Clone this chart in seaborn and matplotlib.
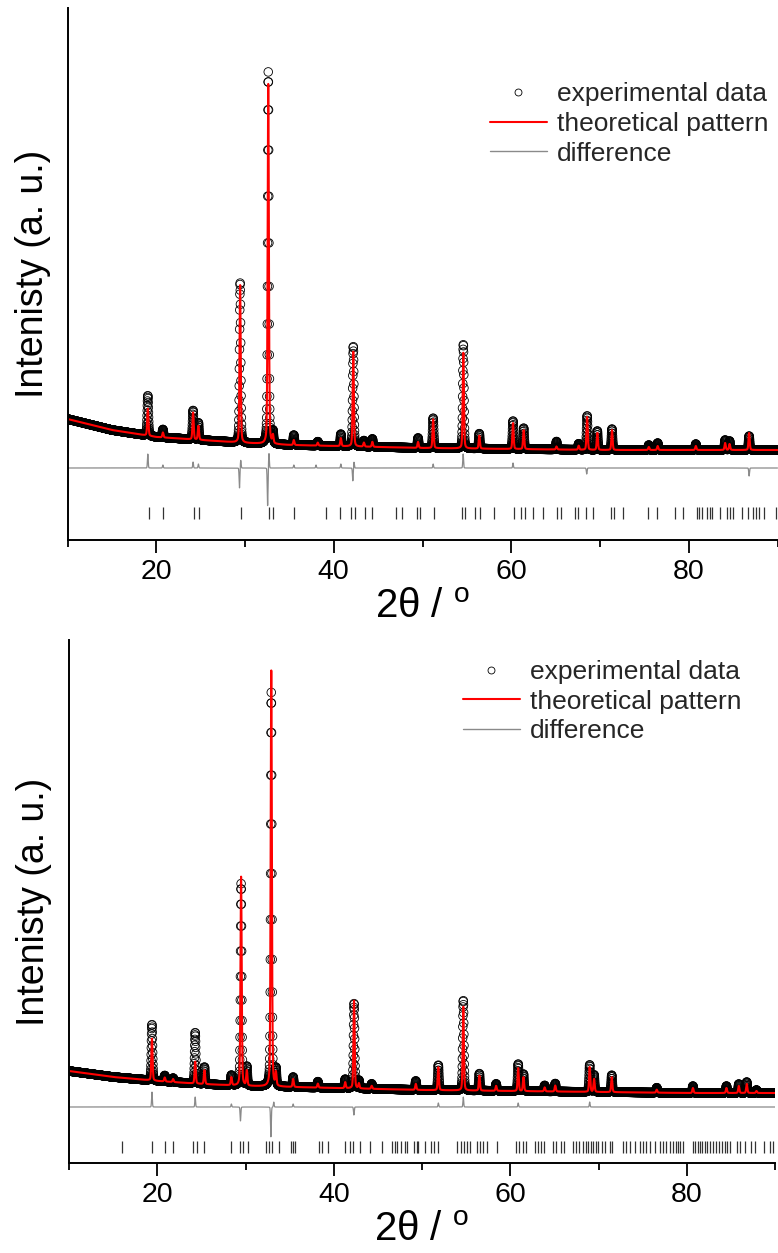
import numpy as np
import pandas as pd
import matplotlib
matplotlib.use("Agg")
import matplotlib.pyplot as plt
from matplotlib.lines import Line2D
import seaborn as sns

# ---------------- data (arbitrary units) ----------------
two_theta_step = 0.015

# top pattern
top_bg_x = [10, 15, 20, 25, 30, 35, 40, 50, 60, 70, 80, 90]
top_bg_y = [121, 110, 103, 100, 97, 95, 94, 92, 91, 90, 90, 90]
top_peak_pos = [19.05, 20.75, 24.15, 24.75, 29.45, 32.62, 33.15, 35.5, 38.2, 40.8,
                42.2, 43.4, 44.35, 49.5, 51.2, 54.6, 56.4, 60.2, 61.4, 65.1,
                67.6, 68.55, 69.7, 71.35, 75.5, 76.5, 80.8, 84.1, 84.6, 86.8]
top_obs_h = [40, 8, 29, 17, 160, 372, 12, 10, 4, 12,
             100, 6, 8, 10, 30, 104, 15, 28, 21, 8,
             6, 34, 19, 21, 5, 7, 6, 10, 9, 14]
top_calc_h = [27, 5, 27, 14, 158, 360, 8, 5, 3, 8,
              95, 4, 5, 6, 29, 96, 13, 26, 19, 3,
              4, 33, 17, 20, 3, 4, 4, 7, 6, 17]
top_diff_pos = [19.05, 20.75, 24.15, 24.75, 29.38, 29.52, 32.55, 32.7, 35.5, 38.0,
                40.8, 42.15, 42.28, 54.58, 51.2, 60.2, 68.5, 86.8]
top_diff_amp = [14, 3, 6, 4, -20, 8, -38, 15, 3, 3,
                4, -13, 6, 14, 4, 5, -6, -8]
top_reflections = [19.13, 20.71, 24.22, 24.78, 29.57, 32.69, 33.14, 35.52, 39.1, 40.72,
                   41.92, 42.37, 43.5, 44.26, 47.0, 47.65, 49.38, 49.76, 51.26, 54.46,
                   54.8, 55.86, 56.5, 58.04, 60.26, 61.13, 61.51, 62.49, 63.58, 65.16,
                   65.65, 67.15, 67.53, 68.47, 69.23, 71.22, 71.56, 72.62, 75.37, 76.46,
                   78.45, 79.4, 80.9, 81.16, 81.47, 82.03, 82.34, 82.6, 83.54, 84.29,
                   84.67, 84.94, 85.99, 86.67, 87.2, 87.57, 87.94, 88.44, 89.8]

# bottom pattern
bot_bg_x = [10, 15, 20, 25, 30, 40, 50, 60, 70, 80, 90]
bot_bg_y = [92, 86, 82, 79, 77, 75, 73, 72, 71, 70, 70]
bot_peak_pos = [19.4, 20.85, 21.8, 24.3, 25.35, 28.4, 29.5, 30.15, 32.92, 33.45,
                35.4, 38.2, 41.3, 42.3, 42.85, 44.3, 49.3, 51.85, 54.68, 56.5,
                58.4, 60.9, 61.5, 63.9, 65.1, 69.0, 69.5, 71.5, 76.6, 80.7,
                84.5, 85.9, 86.8, 87.9]
bot_obs_h = [56, 6, 4, 51, 17, 10, 202, 19, 394, 17,
             10, 6, 9, 85, 8, 5, 9, 25, 90, 17,
             7, 27, 17, 6, 8, 27, 17, 17, 5, 7,
             7, 9, 11, 3]
bot_calc_h = [42, 4, 3, 22, 14, 8, 209, 15, 416, 13,
              8, 4, 6, 88, 5, 3, 6, 23, 84, 15,
              5, 23, 14, 4, 6, 25, 13, 15, 3, 5,
              5, 7, 9, 2]
bot_diff_pos = [19.4, 24.3, 29.43, 32.88, 33.2, 42.28, 51.85, 54.68, 60.9, 69.0, 35.4, 28.4]
bot_diff_amp = [15, 10, -14, -30, 5, -8, 4, 10, 4, 5, 3, 3]
bot_reflections = [16.0, 19.4, 20.83, 21.77, 24.04, 24.49, 25.35, 28.34, 29.39, 29.7,
                   30.33, 32.3, 32.71, 33.05, 33.81, 35.17, 35.36, 35.62, 38.37, 38.71,
                   39.39, 41.28, 41.85, 42.22, 42.98, 44.11, 45.5, 46.64, 46.94, 47.2,
                   47.58, 48.07, 48.26, 49.09, 49.4, 49.58, 50.34, 50.98, 51.36, 51.85,
                   53.92, 54.38, 54.75, 55.13, 55.43, 56.19, 56.56, 56.87, 57.32, 58.53,
                   60.64, 61.02, 61.4, 61.77, 62.79, 63.09, 63.43, 63.81, 64.87, 65.24,
                   65.7, 66.07, 67.13, 67.4, 67.77, 68.26, 68.56, 68.83, 69.13, 69.39,
                   69.7, 69.96, 70.34, 70.72, 71.28, 71.55, 72.79, 73.17, 73.55, 74.19,
                   74.68, 75.06, 75.43, 75.81, 76.38, 77.02, 77.32, 77.7, 78.07, 78.45,
                   78.75, 79.02, 79.28, 79.58, 80.72, 80.98, 81.24, 81.47, 81.77, 82.04,
                   82.3, 82.6, 82.98, 83.28, 83.66, 84.04, 84.3, 84.56, 84.94, 85.7,
                   86.07, 86.57, 87.32, 87.7, 88.72, 89.4, 89.77]

x_ticks_major = [20, 40, 60, 80]
x_ticks_minor = [10, 30, 50, 70, 90]
legend_labels = ["experimental data", "theoretical pattern", "difference"]
y_label = "Intenisty (a. u.)"
x_label = r"2θ / $^{\mathrm{o}}$"

# ---------------- building profiles from the peak tables ----------------
grid = np.arange(10, 90 + two_theta_step / 2, two_theta_step)


def pseudo_voigt(x, pos, fwhm=0.16, eta=0.3):
    g = np.exp(-4 * np.log(2) * ((x - pos) / fwhm) ** 2)
    l = 1.0 / (1 + 4 * ((x - pos) / fwhm) ** 2)
    return eta * l + (1 - eta) * g


def pattern(bg_x, bg_y, pos, hts, fwhm=0.16, eta=0.3):
    y = np.interp(grid, bg_x, bg_y).astype(float)
    for p, h in zip(pos, hts):
        y += h * pseudo_voigt(grid, p, fwhm, eta)
    return y


def diff_curve(pos, amp, offset):
    y = np.full_like(grid, offset, dtype=float)
    for p, a in zip(pos, amp):
        y += a * pseudo_voigt(grid, p, 0.1, 0.1)
    return y


panels = [
    dict(bg_x=top_bg_x, bg_y=top_bg_y, pos=top_peak_pos, obs=top_obs_h, calc=top_calc_h,
         dpos=top_diff_pos, damp=top_diff_amp, refl=top_reflections,
         rect=[67.5 / 778, 713 / 1253, 710 / 778, 532 / 1253], ylim=532,
         diff_off=72, refl_c=27, leg=(0.595, 0.861)),
    dict(bg_x=bot_bg_x, bg_y=bot_bg_y, pos=bot_peak_pos, obs=bot_obs_h, calc=bot_calc_h,
         dpos=bot_diff_pos, damp=bot_diff_amp, refl=bot_reflections,
         rect=[69 / 778, 90 / 1253, 706 / 778, 523 / 1253], ylim=523,
         diff_off=56, refl_c=16, leg=(0.558, 0.962)),
]

# ---------------- drawing ----------------
sns.set_theme(style="white")
plt.rcParams["font.family"] = ["Liberation Sans", "DejaVu Sans"]
plt.rcParams["mathtext.fontset"] = "custom"
plt.rcParams["mathtext.rm"] = "Liberation Sans"
plt.rcParams["mathtext.it"] = "Liberation Sans:italic"
plt.rcParams["mathtext.bf"] = "Liberation Sans:bold"

fig = plt.figure(figsize=(7.78, 12.53), dpi=100)

for pnl in panels:
    ax = fig.add_axes(pnl["rect"])
    obs = pattern(pnl["bg_x"], pnl["bg_y"], pnl["pos"], pnl["obs"])
    calc = pattern(pnl["bg_x"], pnl["bg_y"], pnl["pos"], pnl["calc"])
    diff = diff_curve(pnl["dpos"], pnl["damp"], pnl["diff_off"])
    df = pd.DataFrame({"tt": grid, "obs": obs, "calc": calc, "diff": diff})

    sns.scatterplot(data=df, x="tt", y="obs", ax=ax, marker="o", s=38,
                    facecolor="none", edgecolor="black", linewidth=0.6, legend=False)
    sns.lineplot(data=df, x="tt", y="calc", ax=ax, color="#ff0000", lw=1.5,
                 estimator=None, sort=False, legend=False)
    sns.lineplot(data=df, x="tt", y="diff", ax=ax, color="#8a8a8a", lw=0.9,
                 estimator=None, sort=False, legend=False)
    ax.vlines(pnl["refl"], pnl["refl_c"] - 6, pnl["refl_c"] + 6, color="#333333", lw=0.9)

    ax.set_xlim(10, 90)
    ax.set_ylim(0, pnl["ylim"])
    ax.set_xticks(x_ticks_major)
    ax.set_xticks(x_ticks_minor, minor=True)
    ax.set_yticks([])
    ax.tick_params(axis="x", which="major", direction="out", length=9, width=1.3,
                   labelsize=20.5, pad=5, bottom=True, color="black", labelcolor="black")
    ax.tick_params(axis="x", which="minor", direction="out", length=5, width=1.3,
                   bottom=True, color="black")
    for side in ["top", "right"]:
        ax.spines[side].set_visible(False)
    for side in ["left", "bottom"]:
        ax.spines[side].set_color("black")
        ax.spines[side].set_linewidth(1.4)
    ax.set_xlabel(x_label, fontsize=29, labelpad=2, color="black")
    ax.set_ylabel(y_label, fontsize=27, labelpad=12, color="black")

    handles = [
        Line2D([], [], marker="o", ls="none", mfc="none", mec="black", ms=5, mew=0.6),
        Line2D([], [], color="#ff0000", lw=1.5),
        Line2D([], [], color="#8a8a8a", lw=1.0),
    ]
    ax.legend(handles, legend_labels, loc="upper left", bbox_to_anchor=pnl["leg"],
              frameon=False, fontsize=19, handlelength=2.15, handletextpad=0.4,
              labelspacing=0.22, borderpad=0, borderaxespad=0, numpoints=1)

fig.savefig("out.png", dpi=100)
